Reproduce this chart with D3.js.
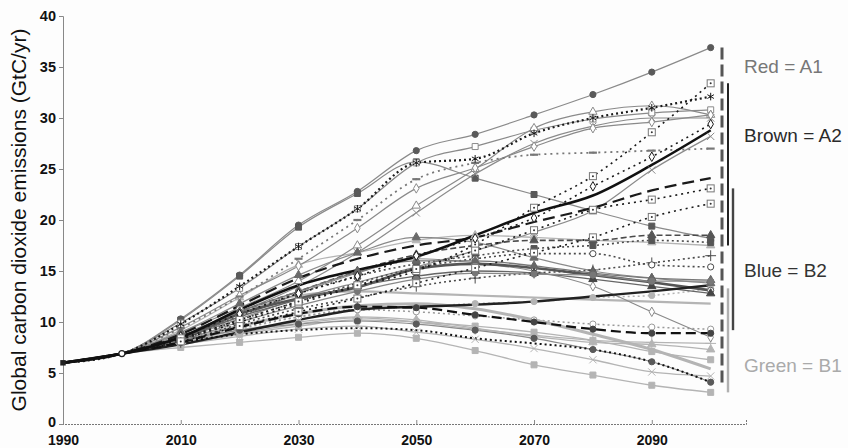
<!DOCTYPE html>
<html><head><meta charset="utf-8">
<script src="https://cdn.jsdelivr.net/npm/d3@7"></script>
<style>
html,body{margin:0;padding:0;background:#fdfdfd;}
svg{display:block;font-family:"Liberation Sans",Arial,sans-serif;}
</style></head>
<body><svg id="c" width="848" height="448"></svg>
<script>
// ---------------- data ----------------
const years = [1990,2000,2010,2020,2030,2040,2050,2060,2070,2080,2090,2100];
const xTicks = [1990,2010,2030,2050,2070,2090];
const yTicks = [0,5,10,15,20,25,30,35,40];

// A1 family ("Red")
const a1Circle   = [6,6.9,10.3,14.6,19.5,22.8,26.8,28.4,30.3,32.3,34.5,36.9];
const a1SquareF  = [6,6.9,10.2,14.5,19.3,22.6,25.7,24.1,22.5,20.9,19.4,18.2];
const a1SquareO  = [6,6.9,9.9,13.3,17.4,21.1,25.6,27.2,28.8,29.9,30.5,30.8];
const a1Triangle = [6,6.9,9.0,11.4,14.0,17.5,21.4,25.0,29.0,30.6,31.2,30.3];
const a1Cross    = [6,6.9,8.8,11.0,13.5,16.8,20.7,24.5,27.5,29.2,30.0,30.0];
const a1Diamond  = [6,6.9,9.5,12.6,15.5,19.2,23.1,25.1,27.2,29.0,29.6,30.3];
const a1Dotted   = [6,6.9,9.8,13.5,17.4,21.1,25.6,26.0,28.5,30.0,31.0,32.1];
const a1DashDot  = [6,6.9,9.4,12.5,16.2,20.0,24.0,25.6,26.4,26.6,26.8,27.0];
const a1Rising   = [6,6.9,8.4,10.3,12.3,13.9,15.4,17.0,18.8,20.9,24.9,28.2];
const a1Falling  = [6,6.9,8.6,10.5,12.8,14.8,16.2,15.8,15.0,13.5,11.0,8.5];
const a1Low      = [6,6.9,8.2,9.2,9.8,10.1,9.8,9.2,8.4,7.3,6.1,4.1];
const a1Mid      = [6,6.9,9.0,11.8,14.6,16.8,18.3,17.8,16.3,15.0,14.3,13.8];

// A2 family ("Brown")
const a2Thick    = [6,6.9,8.5,11.2,13.6,15.1,16.4,18.5,20.7,22.4,25.4,28.8];
const a2Dashed   = [6,6.9,8.8,11.6,14.3,16.2,17.5,18.3,19.8,21.2,22.9,24.1];
const a2Steep    = [6,6.9,8.3,10.0,11.8,13.5,15.0,17.6,21.2,24.3,28.6,33.4];
const a2Diamond  = [6,6.9,8.6,10.8,12.8,14.5,16.5,18.2,20.2,23.3,26.2,29.4];
const a2Boxed    = [6,6.9,8.4,10.2,12.0,13.6,15.2,17.0,19.0,21.0,22.0,23.1];
const a2Boxed2   = [6,6.9,8.1,9.6,11.0,12.3,13.8,15.3,16.8,18.3,20.3,21.6];

// B2 family ("Blue")
const b2Thick    = [6,6.9,8.3,10.8,12.3,13.4,15.2,15.7,15.3,14.6,13.9,13.1];
const b2TriDash  = [6,6.9,8.6,11.0,13.0,15.0,16.6,17.5,18.0,18.0,18.5,18.5];
const b2SquareF  = [6,6.9,8.3,10.6,12.8,14.5,15.7,16.5,17.2,17.5,18.0,17.8];
const b2Plus     = [6,6.9,8.0,9.8,11.3,12.4,13.5,14.3,14.8,15.1,15.8,16.5];
const b2CircleO  = [6,6.9,8.2,10.2,12.0,13.8,15.3,16.2,16.7,16.7,15.6,15.4];
const b2Triangle = [6,6.9,8.5,11.0,13.0,14.9,16.0,16.0,15.5,14.8,14.3,14.1];
const b2TriDark  = [6,6.9,8.4,10.5,12.2,13.5,14.5,15.0,14.8,14.2,13.5,12.8];
const b2Square2  = [6,6.9,8.2,10.0,11.6,13.0,14.2,14.8,14.7,14.6,14.0,14.0];
const b2LowThick = [6,6.9,7.8,9.0,10.2,11.2,11.5,11.7,12.0,12.5,13.0,13.6];
const b2Dashed   = [6,6.9,8.0,9.5,10.8,11.5,11.4,10.7,10.0,9.3,8.9,8.9];

// B1 family ("Green")
const b1SquareLow = [6,6.9,7.5,8.0,8.5,8.9,8.4,7.2,5.8,4.8,3.8,3.1];
const b1Cross     = [6,6.9,7.8,8.6,9.3,9.6,9.0,8.3,7.4,6.3,5.1,4.7];
const b1Square    = [6,6.9,7.8,8.8,9.6,10.2,10.0,9.6,9.0,8.2,7.1,6.3];
const b1Triangle  = [6,6.9,8.0,9.2,10.0,10.5,10.2,9.4,8.6,8.0,7.8,7.3];
const b1CircleRise= [6,6.9,8.0,9.3,10.5,11.2,11.5,11.8,12.0,12.4,12.6,13.3];
const b1CircleO   = [6,6.9,8.1,9.4,10.5,11.2,11.0,10.6,10.2,9.8,9.5,9.3];
const b1Plus      = [6,6.9,7.9,8.9,9.8,10.4,10.0,9.3,8.7,8.2,8.0,7.9];
const b1Dotted    = [6,6.9,8.0,8.8,9.2,9.4,9.2,8.4,7.9,7.3,6.1,4.1];
const b1Thick     = [6,6.9,8.2,9.6,10.8,11.6,11.8,11.3,10.2,8.8,7.3,5.4];
const b1High      = [6,6.9,9.2,12.4,15.6,16.8,18.0,18.5,18.3,18.0,17.8,17.5];
const b1Flat      = [6,6.9,8.6,10.8,12.6,13.0,12.8,12.6,12.4,12.2,12.0,11.8];

// right-hand family ranges and labels
const familyLabels = ["Red = A1","Brown = A2","Blue = B2","Green = B1"];
const familyLabelValues = [34.4, 27.6, 14.4, 5.1];
const familyRanges = [[36.9,4.0],[33.4,17.5],[23.1,9.2],[13.3,3.1]];

// ---------------- styles ----------------
const RED="#8a8a8a", BROWN="#1a1a1a", BLUE="#4a4a4a", GREEN="#b4b4b4";
const series = [
  // B1 first (drawn underneath)
  {v:b1SquareLow, c:GREEN, w:1.3, m:"square", f:GREEN},
  {v:b1Cross,     c:GREEN, w:1.3, m:"x", f:"none"},
  {v:b1Square,    c:GREEN, w:1.3, m:"square", f:GREEN},
  {v:b1Triangle,  c:GREEN, w:1.3, m:"triangle", f:GREEN},
  {v:b1CircleRise,c:GREEN, w:1.5, d:"2,3", m:"circle", f:GREEN},
  {v:b1CircleO,   c:"#999", w:1.5, d:"2,3", m:"circle", f:"#fff"},
  {v:b1Plus,      c:GREEN, w:1.3, m:"plus", f:"none"},
  {v:b1Thick,     c:GREEN, w:3, m:null},
  {v:b1High,      c:GREEN, w:1.3, m:"triangle", f:GREEN},
  {v:b1Flat,      c:GREEN, w:2.2, m:null},
  // A1
  {v:a1Circle,   c:RED, w:1.2, m:"circle", f:"#5a5a5a"},
  {v:a1SquareF,  c:RED, w:1.2, m:"square", f:"#5a5a5a"},
  {v:a1SquareO,  c:RED, w:1.2, m:"square", f:"#fff"},
  {v:a1Triangle, c:RED, w:1.2, m:"triangle", f:"#fff"},
  {v:a1Cross,    c:RED, w:1.2, m:"x", f:"none"},
  {v:a1Diamond,  c:RED, w:1.2, m:"diamond", f:"#fff"},
  {v:a1DashDot,  c:"#777", w:1.8, d:"2,4", m:"dash", f:"none"},
  {v:a1Rising,   c:RED, w:1.2, m:"x", f:"none"},
  {v:a1Falling,  c:RED, w:1.2, m:"diamond", f:"#fff"},
  {v:a1Low,      c:RED, w:1.2, m:"circle", f:"#5a5a5a"},
  {v:a1Mid,      c:RED, w:1.2, m:"triangle", f:"#6a6a6a"},
  // B2
  {v:b2Thick,    c:"#555", w:2.6, m:"circle", f:"#fff"},
  {v:b2TriDash,  c:BLUE, w:1.6, d:"6,3", m:"triangle", f:"#555"},
  {v:b2SquareF,  c:BLUE, w:1.6, d:"2,3", m:"square", f:"#555"},
  {v:b2Plus,     c:BLUE, w:1.6, d:"2,3", m:"plus", f:"none"},
  {v:b2CircleO,  c:BLUE, w:1.6, d:"2,3", m:"circle", f:"#fff"},
  {v:b2Triangle, c:"#777", w:1.3, m:"triangle", f:"#666"},
  {v:b2TriDark,  c:"#666", w:1.3, m:"triangle", f:"#444"},
  {v:b2Square2,  c:"#888", w:1.3, m:"circle", f:"#777"},
  {v:b2LowThick, c:"#222", w:2.4, m:null},
  {v:b2Dashed,   c:"#111", w:2.2, d:"10,5", m:"circle", f:"#444"},
  {v:b1Dotted,   c:"#111", w:2, d:"2,3", m:null},
  // A2 (black, on top)
  {v:a2Steep,    c:BROWN, w:1.6, d:"2,4", m:"boxed", f:"#fff"},
  {v:a2Diamond,  c:BROWN, w:1.6, d:"2,4", m:"diamond", f:"#fff"},
  {v:a2Boxed,    c:BROWN, w:1.6, d:"2,4", m:"boxed", f:"#fff"},
  {v:a2Boxed2,   c:BROWN, w:1.6, d:"2,4", m:"boxed", f:"#fff"},
  {v:a2Dashed,   c:BROWN, w:2.2, d:"12,6", m:null},
  {v:a1Dotted,   c:BROWN, w:2.2, d:"2,3", m:"asterisk", f:"none"},
  {v:a2Thick,    c:"#111", w:2.6, m:null}
];

// ---------------- drawing ----------------
const svg = d3.select("#c");
const x = d3.scaleLinear().domain([1990, 2106]).range([63, 746]);
const y = d3.scaleLinear().domain([0, 40]).range([424, 16]);

// axes
const yAxis = svg.append("g").attr("transform","translate(63,0)")
  .call(d3.axisLeft(y).tickValues(yTicks).tickSize(4).tickPadding(3));
yAxis.select(".domain").attr("stroke","#888");
yAxis.selectAll(".tick line").attr("stroke","#888");
yAxis.selectAll("text").attr("font-size",14.5).attr("font-weight","bold").attr("fill","#111")
  .attr("font-family","'Liberation Sans',Arial,sans-serif");
// nudge the zero label up slightly so it clears the first year label
yAxis.selectAll(".tick").filter(d=>d===0).select("text").attr("dy","0.2em");

const xAxis = svg.append("g").attr("transform","translate(0,424)")
  .call(d3.axisBottom(x).tickValues(xTicks).tickFormat(d3.format("d")).tickSize(-4).tickPadding(11));
xAxis.select(".domain").attr("stroke","#777").attr("stroke-dasharray","2,1");
xAxis.selectAll(".tick line").attr("stroke","#888");
xAxis.selectAll("text").attr("font-size",14).attr("font-weight","bold").attr("fill","#111")
  .attr("font-family","'Liberation Sans',Arial,sans-serif");

svg.append("text")
  .attr("transform","translate(26,220) rotate(-90)")
  .attr("text-anchor","middle")
  .attr("font-size",21).attr("fill","#111")
  .text("Global carbon dioxide emissions (GtC/yr)");

const line = d3.line().x((d,i)=>x(years[i])).y(d=>y(d)).curve(d3.curveMonotoneX);

const symMap = {
  circle: d3.symbolCircle, square: d3.symbolSquare, triangle: d3.symbolTriangle,
  diamond: d3.symbolDiamond, plus: d3.symbolPlus, x: d3.symbolX, asterisk: d3.symbolAsterisk
};
const symSize = {circle:30, square:36, triangle:30, diamond:26, plus:40, x:36, asterisk:40, boxed:36};

const gLines = svg.append("g");
series.forEach(s=>{
  gLines.append("path").datum(s.v).attr("d",line)
    .attr("fill","none").attr("stroke",s.c).attr("stroke-width",s.w)
    .attr("stroke-dasharray",s.d||null).attr("stroke-linejoin","round");
});
const gMarks = svg.append("g");
series.forEach(s=>{
  if(!s.m) return;
  const pts = s.v.map((v,i)=>({yr:years[i],v})).filter(p=>p.yr>=2010);
  pts.forEach(p=>{
    const cx=x(p.yr), cy=y(p.v);
    if(s.m==="dash"){
      gMarks.append("line").attr("x1",cx-4).attr("x2",cx+4).attr("y1",cy).attr("y2",cy)
        .attr("stroke",s.c).attr("stroke-width",2.2);
    } else if(s.m==="boxed"){
      gMarks.append("rect").attr("x",cx-3.5).attr("y",cy-3.5).attr("width",7).attr("height",7)
        .attr("fill","#fff").attr("stroke","#777").attr("stroke-width",1);
      gMarks.append("circle").attr("cx",cx).attr("cy",cy).attr("r",1).attr("fill","#333");
    } else {
      const stroked = (s.m==="plus"||s.m==="x"||s.m==="asterisk");
      gMarks.append("path")
        .attr("transform",`translate(${cx},${cy})`)
        .attr("d",d3.symbol(symMap[s.m], symSize[s.m])())
        .attr("fill",stroked?"none":s.f)
        .attr("stroke",stroked?s.c:(s.f==="#fff"?s.c:s.f))
        .attr("stroke-width",1);
    }
  });
});
// base year markers
svg.append("path").attr("transform",`translate(${x(1990)},${y(6)})`)
  .attr("d",d3.symbol(d3.symbolSquare,30)()).attr("fill","#222");
svg.append("circle").attr("cx",x(2000)).attr("cy",y(6.9)).attr("r",3)
  .attr("fill","#fff").attr("stroke","#222").attr("stroke-width",1.2);

// family brackets
const bracketX = [722, 728, 733, 728];
const bracketColors = ["#555","#222","#444","#b0b0b0"];
const bracketDash = ["12,5",null,null,null];
const bracketW = [3,2,2.4,2.4];
familyRanges.forEach((r,i)=>{
  svg.append("line").attr("x1",bracketX[i]).attr("x2",bracketX[i])
    .attr("y1",y(r[0])).attr("y2",y(r[1]))
    .attr("stroke",bracketColors[i]).attr("stroke-width",bracketW[i])
    .attr("stroke-dasharray",bracketDash[i]);
});
const labelColors = ["#777","#2a2a2a","#333","#aaa"];
familyLabels.forEach((t,i)=>{
  svg.append("text").attr("x",744).attr("y",y(familyLabelValues[i]))
    .attr("font-size",19).attr("fill",labelColors[i]).text(t);
});
</script></body></html>
